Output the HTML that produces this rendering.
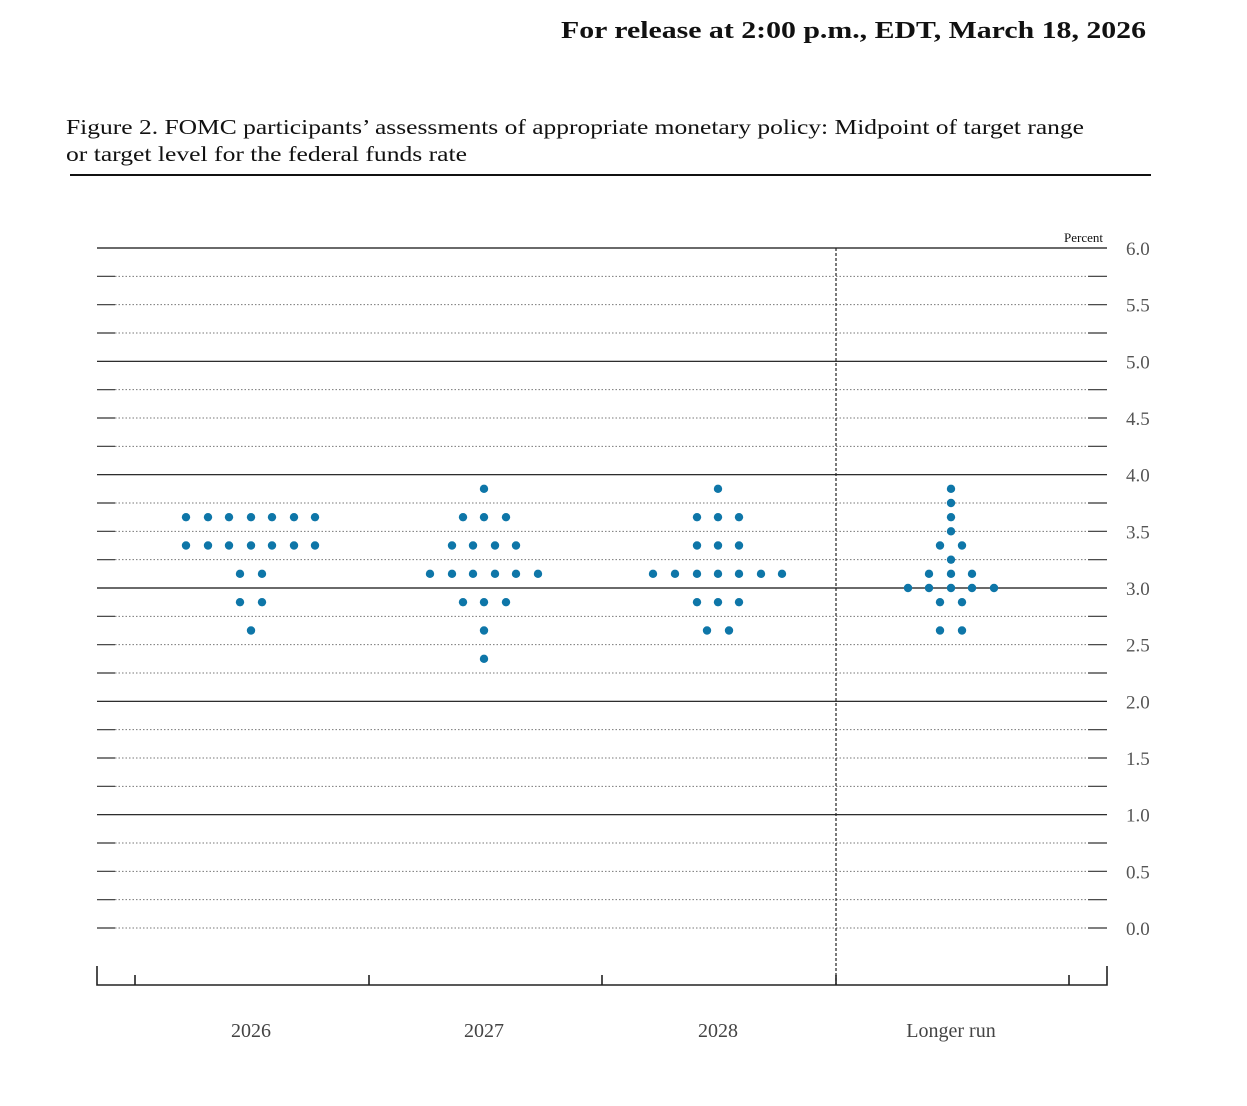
<!DOCTYPE html>
<html><head><meta charset="utf-8"><style>
body{margin:0;background:#fff;width:1247px;height:1101px;overflow:hidden}
</style></head><body>
<svg width="1247" height="1101" xmlns="http://www.w3.org/2000/svg" font-family="Liberation Serif, serif">
<text x="561" y="38" textLength="585" lengthAdjust="spacingAndGlyphs" font-size="24" font-weight="bold" fill="#111">For release at 2:00 p.m., EDT, March 18, 2026</text>
<text x="66" y="134" textLength="1018" lengthAdjust="spacingAndGlyphs" font-size="21" fill="#111">Figure 2. FOMC participants’ assessments of appropriate monetary policy: Midpoint of target range</text>
<text x="66" y="161" textLength="401" lengthAdjust="spacingAndGlyphs" font-size="21" fill="#111">or target level for the federal funds rate</text>
<line x1="70" y1="175" x2="1151" y2="175" stroke="#111" stroke-width="2"/>
<text x="1103" y="242" text-anchor="end" font-size="13" fill="#111">Percent</text>
<g id="grid"></g>
<line x1="836" y1="248" x2="836" y2="985" stroke="#222" stroke-width="1.2" stroke-dasharray="3,2"/>
<path d="M97 966V985H1107V966M135 975V985M369 975V985M602 975V985M836 975V985M1069 975V985" stroke="#222" stroke-width="1.6" fill="none"/>
<g font-size="20" fill="#444" text-anchor="middle">
<text x="251" y="1037">2026</text><text x="484" y="1037">2027</text><text x="718" y="1037">2028</text><text x="951" y="1037">Longer run</text>
</g>
<g id="dots" fill="#0e76a8"></g>
</svg>
<script>
var ns="http://www.w3.org/2000/svg",g=document.getElementById("grid"),d=document.getElementById("dots");
function Y(v){return 248+(6-v)*113.333;}
function el(p,t,a){var e=document.createElementNS(ns,t);for(var k in a)e.setAttribute(k,a[k]);p.appendChild(e);return e;}
for(var i=0;i<=24;i++){var v=i*0.25,y=Y(v);
 if(i%4==0&&v>0){el(g,"line",{x1:97,y1:y,x2:1107,y2:y,stroke:"#111","stroke-width":1.2});}
 else{el(g,"line",{x1:115,y1:y,x2:1088,y2:y,stroke:"#777","stroke-width":1,"stroke-dasharray":"1.5,2"});
  el(g,"line",{x1:97,y1:y,x2:115,y2:y,stroke:"#333","stroke-width":1.2});
  el(g,"line",{x1:1088,y1:y,x2:1107,y2:y,stroke:"#333","stroke-width":1.2});}
 if(i%2==0){var t=el(g,"text",{x:1126,y:y+7,"font-size":19,fill:"#555"});t.textContent=v.toFixed(1);}
}
var data=[
[3.625,[186,208,229,251,272,294,315]],[3.375,[186,208,229,251,272,294,315]],[3.125,[240,262]],[2.875,[240,262]],[2.625,[251]],
[3.875,[484]],[3.625,[463,484,506]],[3.375,[452,473,495,516]],[3.125,[430,452,473,495,516,538]],[2.875,[463,484,506]],[2.625,[484]],[2.375,[484]],
[3.875,[718]],[3.625,[697,718,739]],[3.375,[697,718,739]],[3.125,[653,675,697,718,739,761,782]],[2.875,[697,718,739]],[2.625,[707,729]],
[3.875,[951]],[3.75,[951]],[3.625,[951]],[3.5,[951]],[3.375,[940,962]],[3.25,[951]],[3.125,[929,951,972]],[3,[908,929,951,972,994]],[2.875,[940,962]],[2.625,[940,962]]];
data.forEach(function(r){r[1].forEach(function(x){el(d,"circle",{cx:x,cy:Y(r[0]),r:4.2});});});
</script>
</body></html>
